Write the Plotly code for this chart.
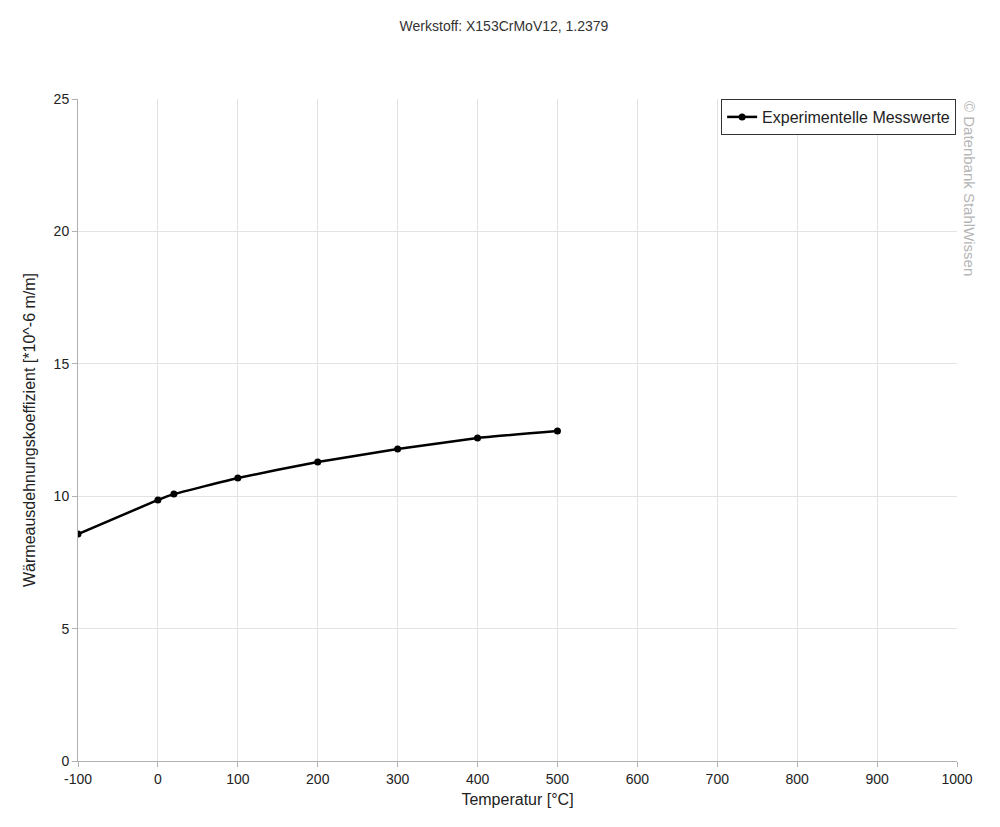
import plotly.graph_objects as go

temperatur = [-100, 0, 20, 100, 200, 300, 400, 500]
ausdehnung = [8.57, 9.86, 10.08, 10.69, 11.29, 11.78, 12.2, 12.46]

x_ticks = [-100, 0, 100, 200, 300, 400, 500, 600, 700, 800, 900, 1000]
x_labels = ["-100", "0", "100", "200", "300", "400", "500", "600", "700", "800", "900", "1000"]
y_ticks = [0, 5, 10, 15, 20, 25]

fig = go.Figure()
fig.add_trace(go.Scatter(
    x=temperatur,
    y=ausdehnung,
    mode="lines+markers",
    name="Experimentelle Messwerte",
    line=dict(color="#000000", width=2.5, shape="spline", smoothing=0.3),
    marker=dict(color="#000000", size=7),
))

fig.update_layout(
    width=992,
    height=819,
    template="plotly_white",
    paper_bgcolor="#ffffff",
    plot_bgcolor="#ffffff",
    margin=dict(l=70, r=43, t=91, b=66),
    font=dict(family="Liberation Sans, Arial, sans-serif", size=14, color="#222222"),
    title=dict(text="Werkstoff: X153CrMoV12, 1.2379", x=0.5, xanchor="center",
               y=0.978, yanchor="middle", font=dict(size=14, color="#333333")),
    showlegend=True,
    legend=dict(x=0.999, y=1.0, xanchor="right", yanchor="top",
                bordercolor="#333333", borderwidth=1, bgcolor="#ffffff",
                font=dict(size=16, color="#222222"),
                itemwidth=30, tracegroupgap=0),
)

fig.update_xaxes(
    range=[-100, 1000], tickvals=x_ticks, ticktext=x_labels, showgrid=True,
    gridcolor="#e3e3e3", zeroline=False, showline=True, linecolor="#b0b0b0",
    ticks="outside", ticklen=5, tickcolor="#b0b0b0",
    title=dict(text="Temperatur [°C]", standoff=8, font=dict(size=16)),
)
fig.update_yaxes(
    range=[0, 25], tickvals=y_ticks, showgrid=True, gridcolor="#e3e3e3",
    zeroline=False, showline=True, linecolor="#b0b0b0", ticks="outside",
    ticklen=5, tickcolor="#b0b0b0",
    title=dict(text="Wärmeausdehnungskoeffizient [*10^-6 m/m]", standoff=14,
               font=dict(size=16)),
)

fig.add_annotation(
    text="© Datenbank StahlWissen", xref="paper", yref="paper",
    x=1.0, y=1.0, xanchor="left", yanchor="top", xshift=2,
    textangle=90, showarrow=False,
    font=dict(size=15, color="#b5b5b5"),
)

fig.write_html("out.html")
